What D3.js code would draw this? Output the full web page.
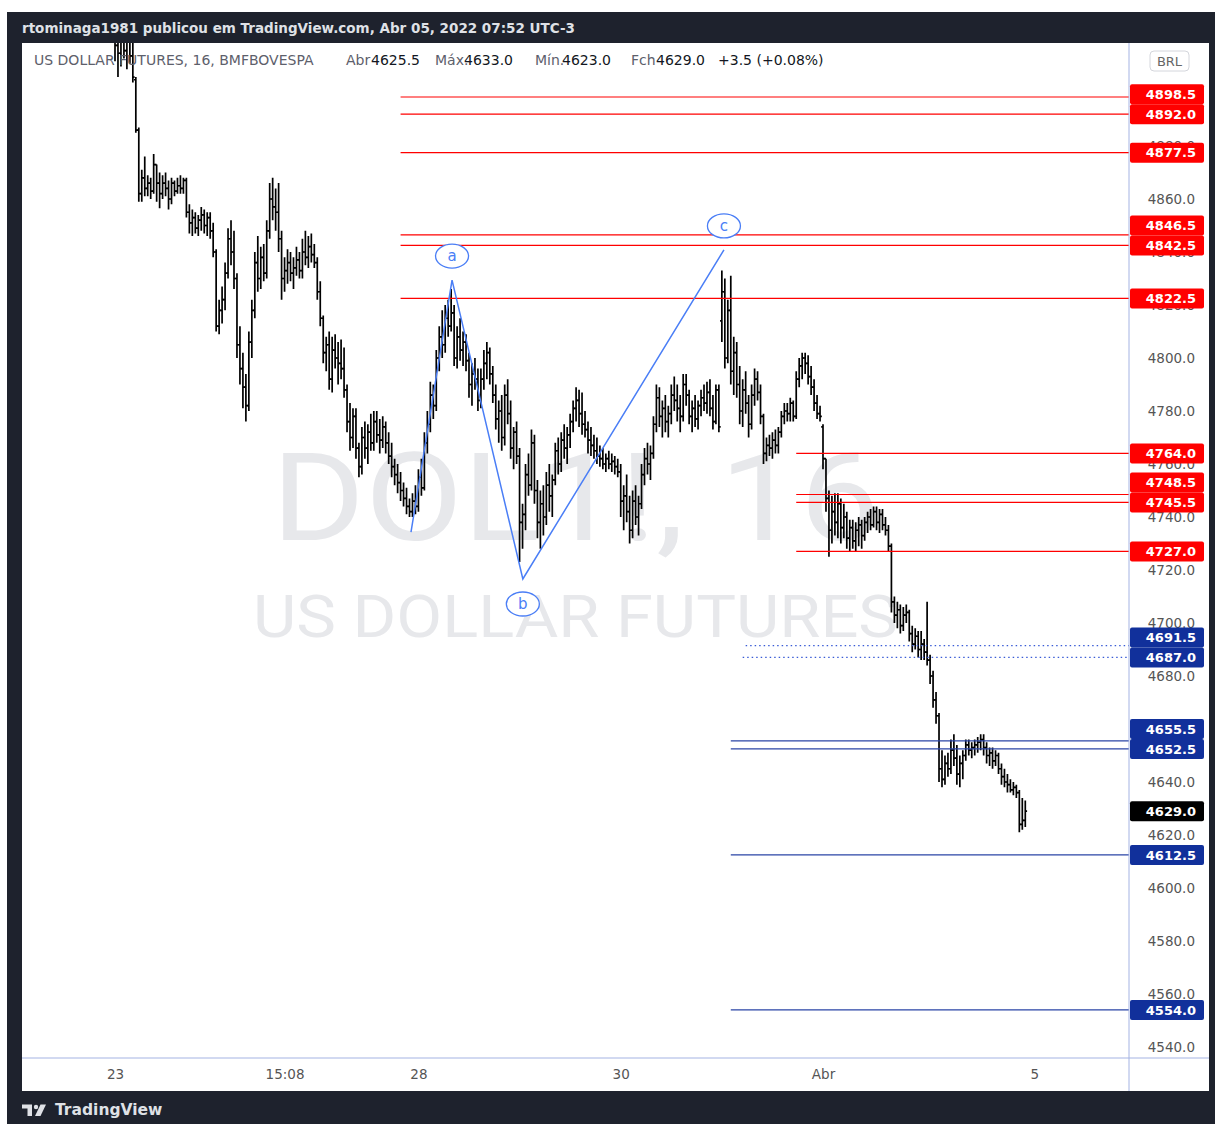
<!DOCTYPE html>
<html>
<head>
<meta charset="utf-8">
<script src="https://cdn.jsdelivr.net/npm/d3@7"></script>
<style>
body { margin: 0; background: #fff; }
svg text { font-family: "DejaVu Sans", sans-serif; }
</style>
</head>
<body>
<svg id="chart"></svg>
<script>
// 16 min bars, one array per session: [open, high, low, close]
const day23 = [
  [4925,4935,4912,4918],[4918,4928,4906,4915],[4915,4930,4910,4922],[4922,4932,4913,4916],[4916,4926,4909,4920],
  [4920,4928,4911,4914],[4914,4921,4904,4906],[4905,4906,4885,4886],[4886,4887,4859,4862],
  [4862,4871,4859,4868],[4868,4876,4861,4864],[4864,4869,4861,4866],[4866,4868,4860,4863],[4863,4877,4862,4873],
  [4873,4873,4859,4866],[4866,4870,4856.5,4862],[4862,4869,4860,4866],[4866,4870,4861,4864],[4864,4867,4856,4860],
  [4860,4868,4858,4866],[4866,4867,4861,4863],[4863,4868,4862,4865],[4865,4869,4862,4864],[4864,4868,4862,4867],
  [4867,4868,4853,4855],[4855,4858,4847,4851],[4851,4856,4846,4853],[4853,4855,4847,4849],[4849,4854,4846,4852],
  [4852,4857,4848,4854],[4854,4856,4847,4850],[4850,4855,4846,4853],[4853,4855,4845,4848],[4848,4851,4838,4840]
];
const day24 = [
  [4840,4841,4810,4812],[4812,4822,4809,4818],[4818,4827,4813,4822],[4822,4836,4818,4832],[4832,4849,4830,4845],
  [4845,4852,4835,4840],[4840,4848,4826,4830],[4830,4832,4800,4805],[4805,4812,4790,4796],[4796,4802,4781,4789],
  [4789,4794,4776,4782],[4782,4810,4780,4806],[4806,4822,4800,4818],[4818,4840,4815,4836],[4836,4846,4825,4830],
  [4830,4842,4826,4838],[4838,4843,4829,4832],[4832,4852,4830,4848],[4848,4866,4845,4860],[4860,4868,4852,4857],
  [4857,4864,4848,4855],[4855,4866,4840,4845],[4845,4848,4822,4830],[4830,4838,4825,4833],[4833,4841,4828,4836],
  [4836,4840,4829,4832],[4832,4838,4826,4834],[4834,4842,4831,4837],[4837,4840,4830,4833],[4833,4845,4830,4840],
  [4840,4848,4835,4838],[4838,4846,4834,4842],[4842,4847,4836,4839],[4839,4843,4834,4836]
];
const day25 = [
  [4836,4838,4822,4825],[4825,4829,4812,4815],[4815,4816,4798,4802],[4802,4808,4795,4805],[4805,4810,4788,4792],
  [4792,4808,4787,4803],[4803,4809,4796,4800],[4800,4806,4790,4798],[4798,4807,4792,4796],[4796,4804,4785,4788],
  [4788,4790,4772,4776],[4776,4783,4765,4770],[4770,4781,4766,4778],[4778,4781,4762,4766],[4766,4768,4755,4759],
  [4759,4774,4756,4770],[4770,4776,4762,4766],[4766,4775,4760,4772],[4772,4779,4765,4768],[4768,4780,4765,4776],
  [4776,4780,4768,4771],[4771,4777,4764,4769],[4769,4778,4766,4774],[4774,4776,4764,4768],[4768,4772,4760,4763],
  [4763,4768,4755,4759],[4759,4762,4752,4756],[4756,4760,4749,4753],[4753,4757,4746,4750],[4750,4753,4744,4747],
  [4747,4751,4741,4744],[4744,4747,4740,4742],[4742,4749,4740,4746],[4746,4752,4741,4744]
];
const day28 = [
  [4744,4758,4742,4755],[4755,4762,4748,4751],[4751,4772,4750,4768],[4768,4780,4764,4775],[4775,4791,4772,4786],
  [4786,4790,4777,4782],[4782,4803,4780,4800],[4800,4812,4795,4808],[4808,4818,4800,4805],[4805,4820,4802,4815],
  [4815,4822,4808,4812],[4812,4826,4810,4817],[4817,4820,4797,4800],[4800,4812,4796,4808],[4808,4815,4799,4803],
  [4803,4810,4797,4806],[4806,4809,4795,4799],[4799,4802,4785,4790],[4790,4798,4782,4794],[4794,4800,4788,4792],
  [4792,4796,4780,4784],[4784,4796,4781,4792],[4792,4803,4788,4798],[4798,4806,4792,4802],[4802,4804,4790,4794],
  [4794,4797,4783,4786],[4786,4790,4773,4777],[4777,4784,4768,4780],[4780,4786,4765,4770],[4770,4790,4767,4786],
  [4786,4792,4775,4779],[4779,4784,4762,4766],[4766,4774,4758,4772],[4772,4776,4760,4763]
];
const day29 = [
  [4763,4766,4723,4738],[4738,4745,4728,4741],[4741,4760,4735,4756],[4756,4764,4748,4752],[4752,4773,4750,4768],
  [4768,4771,4745,4750],[4750,4754,4732,4738],[4738,4750,4728,4745],[4745,4752,4733,4740],[4740,4757,4737,4752],
  [4752,4760,4742,4748],[4748,4756,4740,4754],[4754,4768,4752,4765],[4765,4770,4756,4760],[4760,4772,4757,4769],
  [4769,4775,4762,4766],[4766,4774,4760,4771],[4771,4779,4766,4776],[4776,4784,4772,4781],[4781,4789,4776,4784],
  [4784,4788,4774,4779],[4779,4787,4771,4775],[4775,4780,4770,4773],[4773,4776,4764,4769],[4769,4774,4763,4767],
  [4767,4771,4762,4765],[4765,4770,4760,4763],[4763,4767,4759,4762],[4762,4766,4758,4760],[4760,4764,4757,4762],
  [4762,4765,4758,4760],[4760,4764,4757,4761],[4761,4763,4756,4759],[4759,4762,4755,4757]
];
const day30 = [
  [4757,4760,4740,4746],[4746,4752,4735,4748],[4748,4756,4738,4742],[4742,4748,4730,4735],[4735,4750,4732,4746],
  [4746,4752,4737,4740],[4740,4748,4733,4745],[4745,4760,4743,4756],[4756,4766,4752,4762],[4762,4768,4756,4760],
  [4760,4767,4754,4764],[4764,4778,4762,4775],[4775,4790,4772,4785],[4785,4789,4774,4778],[4778,4784,4770,4781],
  [4781,4786,4772,4776],[4776,4782,4770,4779],[4779,4790,4775,4786],[4786,4793,4780,4784],[4784,4790,4776,4781],
  [4781,4786,4772,4778],[4778,4794,4776,4790],[4790,4794,4782,4786],[4786,4788,4775,4778],[4778,4784,4772,4781],
  [4781,4786,4774,4777],[4777,4784,4773,4782],[4782,4788,4778,4785],[4785,4790,4780,4783],[4783,4791,4779,4787],
  [4787,4792,4778,4781],[4781,4786,4773,4776],[4776,4790,4775,4788],[4788,4790,4772,4774]
];
const day31 = [
  [4814,4833,4806,4825],[4825,4830,4796,4800],[4800,4822,4798,4818],[4818,4831,4790,4795],[4795,4808,4786,4802],
  [4802,4806,4785,4790],[4790,4797,4775,4780],[4780,4792,4774,4788],[4788,4795,4779,4783],[4783,4786,4770,4775],
  [4775,4790,4773,4786],[4786,4796,4782,4792],[4792,4795,4784,4787],[4787,4790,4775,4778],[4778,4779,4760,4764],
  [4764,4770,4761,4767],[4767,4771,4763,4766],[4766,4772,4762,4769],[4769,4773,4764,4767],[4767,4774,4764,4772],
  [4772,4780,4770,4778],[4778,4783,4775,4780],[4780,4783,4776,4779],[4779,4785,4776,4783],[4783,4784,4776,4778],
  [4778,4795,4777,4792],[4792,4800,4789,4797],[4797,4802,4792,4800],[4800,4802,4794,4798],[4798,4801,4790,4793],
  [4793,4797,4786,4789],[4789,4792,4780,4783],[4783,4786,4777,4779],[4779,4782,4776,4778]
];
const dayApr1 = [
  [4774,4775,4758,4762],[4762,4762,4742,4747],[4747,4750,4725,4735],[4735,4748,4730,4742],[4742,4749,4733,4738],
  [4738,4749,4732,4745],[4745,4747,4730,4736],[4736,4745,4732,4740],[4740,4742,4728,4732],[4732,4739,4727,4736],
  [4736,4739,4728,4731],[4731,4738,4727,4735],[4735,4740,4729,4737],[4737,4739,4728,4733],[4733,4740,4731,4738],
  [4738,4742,4734,4740],[4740,4743,4735,4737],[4737,4744,4736,4742],[4742,4744,4735,4738],[4738,4743,4734,4741],
  [4741,4743,4735,4737],[4737,4740,4733,4735],[4735,4737,4727,4729],[4729,4730,4704,4708],[4708,4710,4700,4703],
  [4703,4708,4698,4705],[4705,4707,4696,4699],[4699,4706,4697,4703],[4703,4707,4700,4704],[4704,4705,4693,4696],
  [4696,4699,4689,4692],[4692,4698,4690,4695],[4695,4697,4687,4690],[4690,4697,4686,4692]
];
const dayApr4 = [
  [4692,4694,4686,4689],[4689,4708,4684,4686],[4686,4688,4677,4680],[4680,4682,4668,4671],[4671,4674,4662,4665],
  [4665,4666,4640,4645],[4645,4652,4638,4641],[4641,4650,4639,4647],[4647,4651,4642,4645],[4645,4656,4643,4652],
  [4652,4658,4646,4649],[4649,4654,4639,4643],[4643,4650,4638,4647],[4647,4652,4641,4650],[4650,4656,4648,4654],
  [4654,4656,4650,4652],[4652,4655,4649,4653],[4653,4656,4650,4654],[4654,4657,4651,4655],[4655,4658,4652,4656],
  [4656,4658,4650,4653],[4653,4655,4647,4650],[4650,4653,4646,4651],[4651,4653,4645,4648],[4648,4652,4646,4650],
  [4650,4651,4643,4645],[4645,4647,4639,4642],[4642,4645,4638,4640],[4640,4643,4636,4639],[4639,4641,4636,4637],
  [4637,4640,4635,4638],[4638,4639,4634,4636],[4636,4637,4621,4624],[4624,4634,4622,4625.5],[4625.5,4633,4623,4629]
];
const sessions = [day23, day24, day25, day28, day29, day30, day31, dayApr1, dayApr4];

// time axis: bar index of each label
const timeLabels = ['23', '15:08', '28', '30', 'Abr', '5'];
const timeLabelBars = [0, 57, 102, 170, 238, 309];

const priceTicks = [4540, 4560, 4580, 4600, 4620, 4640, 4660, 4680, 4700, 4720, 4740,
  4760, 4780, 4800, 4820, 4840, 4860, 4880, 4900];

// horizontal rays: price level and the bar where each one starts
const redLevels = [4898.5, 4892.0, 4877.5, 4846.5, 4842.5, 4822.5, 4764.0, 4748.5, 4745.5, 4727.0];
const redFrom = [96, 96, 96, 96, 96, 96, 229, 229, 229, 229];
const blueLevels = [4655.5, 4652.5, 4612.5, 4554.0];
const blueFrom = [207, 207, 207, 207];
const dottedLevels = [4691.5, 4687.0];
const dottedFrom = [212, 211];

// abc wave: [bar index, price]
const wavePoints = [[99.5, 4734.3], [113.3, 4829.4], [137.1, 4716.6], [204.7, 4840.8]];
const waveLabels = ['a', 'b', 'c'];

const W = 1215, H = 1124;
const plot = {left: 22, right: 1129, top: 43, bottom: 1058};

const svg = d3.select('#chart').attr('width', W).attr('height', H);

svg.append('rect').attr('width', W).attr('height', H).attr('fill', '#fff');
svg.append('rect').attr('x', 7).attr('y', 12).attr('width', W - 7).attr('height', H - 12).attr('fill', '#1e222d');
svg.append('rect').attr('x', 22).attr('y', 43).attr('width', 1187).attr('height', 1048).attr('fill', '#fff');

const bars = sessions.flat().map((d, i) => ({i: i, o: d[0], h: d[1], l: d[2], c: d[3]}));
const last = bars[bars.length - 1];
const prev = bars[bars.length - 2];

const x = d3.scaleLinear().domain([0, 238]).range([115, 823]);
const y = d3.scaleLinear().domain([4540, 4860]).range([1047, 199]);

svg.append('clipPath').attr('id', 'plotClip')
  .append('rect')
  .attr('x', plot.left).attr('y', plot.top)
  .attr('width', plot.right - plot.left).attr('height', plot.bottom - plot.top);

const g = svg.append('g').attr('clip-path', 'url(#plotClip)');

// watermark
const cx = (plot.left + plot.right) / 2;
g.append('text')
  .attr('x', cx).attr('y', 540)
  .attr('text-anchor', 'middle')
  .attr('textLength', 608).attr('lengthAdjust', 'spacingAndGlyphs')
  .style('font-family', 'Roboto, sans-serif').style('font-size', '122px')
  .attr('fill', '#e7e8eb')
  .text('DOL1!, 16');
g.append('text')
  .attr('x', cx).attr('y', 637)
  .attr('text-anchor', 'middle')
  .attr('textLength', 645).attr('lengthAdjust', 'spacingAndGlyphs')
  .style('font-family', 'Roboto, sans-serif').style('font-size', '59px')
  .attr('fill', '#e7e8eb')
  .text('US DOLLAR FUTURES');

// legend
const fmt = d3.format('.1f');
const chg = last.c - prev.c;
const legend = [
  {t: 'US DOLLAR FUTURES, 16, BMFBOVESPA', x: 34, dark: false},
  {t: 'Abr', x: 346, dark: false}, {t: fmt(last.o), x: 371, dark: true},
  {t: 'Máx.', x: 435, dark: false}, {t: fmt(last.h), x: 464, dark: true},
  {t: 'Mín.', x: 535, dark: false}, {t: fmt(last.l), x: 562, dark: true},
  {t: 'Fch', x: 631, dark: false}, {t: fmt(last.c), x: 656, dark: true},
  {t: '+' + fmt(chg) + ' (+' + d3.format('.2f')(chg / prev.c * 100) + '%)', x: 718, dark: true}
];
svg.append('g').selectAll('text').data(legend).join('text')
  .attr('x', d => d.x).attr('y', 60).attr('dy', '0.35em')
  .style('font-size', '14px')
  .attr('fill', d => d.dark ? '#131722' : '#5d606b')
  .text(d => d.t);

// bars
g.append('g').selectAll('path').data(bars).join('path')
  .attr('d', d => {
    const px = x(d.i);
    return `M${px},${y(d.h)}V${y(d.l)}M${px - 1.8},${y(d.o)}H${px}M${px},${y(d.c)}H${px + 1.8}`;
  })
  .attr('fill', 'none')
  .attr('stroke', '#000')
  .attr('stroke-width', 1.7);

// horizontal rays
function rays(levels, from, color, dash) {
  g.append('g').selectAll('line').data(levels).join('line')
    .attr('x1', (d, i) => x(from[i])).attr('x2', plot.right)
    .attr('y1', d => y(d)).attr('y2', d => y(d))
    .attr('stroke', color).attr('stroke-width', 1.2)
    .attr('stroke-dasharray', dash);
}
rays(redLevels, redFrom, '#ff0000', null);
rays(blueLevels, blueFrom, '#2a44a6', null);
rays(dottedLevels, dottedFrom, '#3a5cd6', '1.5,3');

// abc wave
const waveColor = '#4a7ef6';
g.append('path')
  .attr('d', d3.line().x(d => x(d[0])).y(d => y(d[1]))(wavePoints))
  .attr('fill', 'none').attr('stroke', waveColor).attr('stroke-width', 1.5);

const lab = g.append('g').selectAll('g').data(waveLabels).join('g')
  .attr('transform', (d, i) => {
    const p = wavePoints[i + 1];
    const below = p[1] < wavePoints[i][1];
    return `translate(${x(p[0])},${y(p[1]) + (below ? 25 : -24)})`;
  });
lab.append('ellipse').attr('rx', 16.5).attr('ry', 12)
  .attr('fill', '#fff').attr('stroke', waveColor).attr('stroke-width', 1.3);
lab.append('text').attr('text-anchor', 'middle').attr('dy', '0.35em')
  .style('font-size', '15px').attr('fill', waveColor)
  .text(d => d);

// frame lines
svg.append('line').attr('x1', plot.left).attr('x2', 1209).attr('y1', plot.bottom).attr('y2', plot.bottom)
  .attr('stroke', '#a4b3e3');
svg.append('line').attr('x1', plot.right).attr('x2', plot.right).attr('y1', plot.top).attr('y2', 1091)
  .attr('stroke', '#a4b3e3');

// price axis
const yAxis = svg.append('g')
  .attr('transform', `translate(${plot.right},0)`)
  .call(d3.axisRight(y).tickValues(priceTicks).tickSize(0).tickFormat(fmt));
yAxis.select('.domain').remove();
yAxis.selectAll('text')
  .attr('x', 66).attr('text-anchor', 'end')
  .style('font-family', '"DejaVu Sans", sans-serif').style('font-size', '13.5px')
  .attr('fill', '#555');

// time axis
const xAxis = svg.append('g')
  .attr('transform', `translate(0,${plot.bottom})`)
  .call(d3.axisBottom(x).tickValues(timeLabelBars).tickSize(0).tickFormat((d, i) => timeLabels[i]));
xAxis.select('.domain').remove();
xAxis.selectAll('text')
  .attr('y', 16).attr('dy', '0.35em')
  .style('font-family', '"DejaVu Sans", sans-serif').style('font-size', '13.5px')
  .attr('fill', '#555');

// price labels, pushed up when they overlap
const tags = []
  .concat(redLevels.map(v => ({v: v, fill: '#ff0000'})))
  .concat(blueLevels.map(v => ({v: v, fill: '#11309b'})))
  .concat(dottedLevels.map(v => ({v: v, fill: '#11309b'})))
  .concat([{v: last.c, fill: '#000'}]);
tags.sort((a, b) => a.v - b.v);
let prevY = Infinity;
tags.forEach(t => {
  t.y = Math.min(y(t.v), prevY - 20);
  prevY = t.y;
});
const tagG = svg.append('g').selectAll('g').data(tags).join('g')
  .attr('transform', d => `translate(1130,${d.y})`);
tagG.append('rect').attr('x', 0).attr('y', -10).attr('width', 74).attr('height', 20).attr('rx', 2)
  .attr('fill', d => d.fill);
tagG.append('text').attr('x', 66).attr('dy', '0.36em').attr('text-anchor', 'end')
  .style('font-size', '13px').style('font-weight', 'bold')
  .attr('fill', '#fff')
  .text(d => fmt(d.v));

// currency badge
svg.append('rect').attr('x', 1150).attr('y', 51).attr('width', 39).attr('height', 20).attr('rx', 4)
  .attr('fill', '#fff').attr('stroke', '#d4d6dc');
svg.append('text').attr('x', 1169.5).attr('y', 61).attr('dy', '0.35em').attr('text-anchor', 'middle')
  .style('font-size', '13px').attr('fill', '#666')
  .text('BRL');

// header and footer
svg.append('text').attr('x', 22).attr('y', 28).attr('dy', '0.35em')
  .style('font-size', '13.5px').style('font-weight', 'bold')
  .attr('fill', '#dfe1e6')
  .text('rtominaga1981 publicou em TradingView.com, Abr 05, 2022 07:52 UTC-3');

const logo = svg.append('g').attr('fill', '#dfe1e6');
logo.append('path').attr('d', 'M22,1104.5h10v11.5h-4.5v-7.5h-5.5z');
logo.append('circle').attr('cx', 36).attr('cy', 1107).attr('r', 2.2);
logo.append('path').attr('d', 'M40.5,1104.5h5.5l-5.5,11.5h-5.5z');
svg.append('text').attr('x', 55).attr('y', 1110).attr('dy', '0.35em')
  .style('font-size', '15.5px').style('font-weight', '600').attr('fill', '#dfe1e6')
  .text('TradingView');
</script>
</body>
</html>
